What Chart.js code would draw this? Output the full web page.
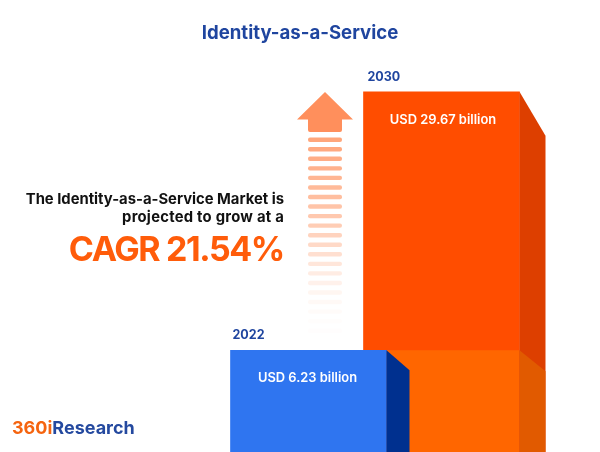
<!DOCTYPE html>
<html>
<head>
<meta charset="utf-8">
<style>html,body{margin:0;padding:0;background:#fff}canvas{display:block}</style>
<script src="https://cdn.jsdelivr.net/npm/chart.js@4"></script>
</head>
<body>
<canvas id="c" width="600" height="452"></canvas>
<script>
const categories = ["2022", "2030"];
const marketValues = [6.23, 29.67];
const valueUnit = "billion";
const currency = "USD";
const chartTitle = "Identity-as-a-Service";
const blurbLines = ["The Identity-as-a-Service Market is", "projected to grow at a"];
const cagrText = "CAGR 21.54%";
const logoParts = ["360i", "Research"];

const FONT = "Inter, sans-serif";
const BLUE_TEXT = "#1F459F";
const stripeAlpha = [.85,.82,.78,.74,.7,.66,.62,.56,.52,.48,.42,.36,.3,.24,.18,.13,.09,.06,.04,.02,.015];

const deco = {
  id: "deco",
  afterLayout(chart) {
    const tb = chart.titleBlock;
    if (tb) { tb.left = 0; tb.right = chart.width; tb.width = chart.width; }
  },
  afterDatasetDraw(chart, args) {
    const ctx = chart.ctx, y = chart.scales.y;
    const i = args.index;
    const el = args.meta.data[i];
    const l = el.x - el.width / 2, r = el.x + el.width / 2, t = el.y, b = el.base;
    ctx.save();
    if (i === 1) {
      const d = 26, ov = y.getPixelForValue(marketValues[0]);
      ctx.fillStyle = "#FF6600"; ctx.fillRect(l, ov, r - l, b - ov);
      ctx.fillStyle = "#DD3F00";
      ctx.beginPath(); ctx.moveTo(r, t); ctx.lineTo(r + d, t + 44); ctx.lineTo(r + d, b); ctx.lineTo(r, b); ctx.fill();
      ctx.fillStyle = "#E15A00";
      ctx.beginPath(); ctx.moveTo(r, ov); ctx.lineTo(r + d, ov + 21); ctx.lineTo(r + d, b); ctx.lineTo(r, b); ctx.fill();
    } else {
      const d = 23;
      ctx.fillStyle = "#00308F";
      ctx.beginPath(); ctx.moveTo(r, t); ctx.lineTo(r + d, t + 20); ctx.lineTo(r + d, b); ctx.lineTo(r, b); ctx.fill();
    }
    ctx.restore();
  },
  afterDraw(chart) {
    const ctx = chart.ctx;
    ctx.save();
    // arrow
    const cx = 325;
    ctx.fillStyle = "#FF8F5C";
    ctx.beginPath();
    ctx.moveTo(cx, 92); ctx.lineTo(cx + 28, 119.5); ctx.lineTo(cx + 17, 119.5);
    ctx.lineTo(cx + 17, 130); ctx.quadraticCurveTo(cx + 17, 132, cx + 15, 132);
    ctx.lineTo(cx - 15, 132); ctx.quadraticCurveTo(cx - 17, 132, cx - 17, 130);
    ctx.lineTo(cx - 17, 119.5); ctx.lineTo(cx - 28, 119.5); ctx.closePath(); ctx.fill();
    stripeAlpha.forEach((a, k) => {
      const sy = 137.5 + k * 9.55;
      ctx.fillStyle = `rgba(255,150,100,${a})`;
      ctx.beginPath(); ctx.roundRect(cx - 17, sy, 34, 4.4, 2); ctx.fill();
    });
    // bar labels
    ctx.textBaseline = "alphabetic";
    chart.data.datasets.forEach((ds, di) => {
      const meta = chart.getDatasetMeta(di);
      const el = meta.data[di];
      ctx.textAlign = "center"; ctx.fillStyle = "#fff";
      ctx.font = `600 12.9px ${FONT}`;
      ctx.fillText(`${currency} ${marketValues[di]} ${valueUnit}`, el.x + (di ? 1.5 : -1), el.y + 32);
      ctx.textAlign = "left"; ctx.fillStyle = BLUE_TEXT;
      ctx.font = `700 12.5px ${FONT}`;
      ctx.fillText(categories[di], el.x - el.width / 2 + (di ? 4 : 2), el.y - 11);
    });
    // blurb
    ctx.textAlign = "right"; ctx.fillStyle = "#111";
    ctx.font = `700 14.8px ${FONT}`;
    ctx.fillText(blurbLines[0], 284, 204);
    ctx.letterSpacing = "0.25px";
    ctx.fillText(blurbLines[1], 284, 222);
    ctx.fillStyle = "#FF5C0A";
    ctx.font = `700 34px ${FONT}`;
    ctx.letterSpacing = "-1.4px";
    ctx.fillText(cagrText, 284, 261);
    ctx.letterSpacing = "0px";
    // logo
    ctx.textAlign = "left";
    ctx.font = `700 18px ${FONT}`;
    ctx.fillStyle = "#F5640F";
    ctx.fillText(logoParts[0], 12, 434);
    const w = ctx.measureText(logoParts[0]).width;
    ctx.fillStyle = "#24499F";
    ctx.fillText(logoParts[1], 12 + w, 434);
    ctx.restore();
  }
};

new Chart(document.getElementById("c"), {
  type: "bar",
  data: {
    labels: categories,
    datasets: [
      { label: categories[0], data: [marketValues[0], null], backgroundColor: "#2F75F0", order: 0, base: -3, clip: false },
      { label: categories[1], data: [null, marketValues[1]], backgroundColor: "#FF4D00", order: 1, base: -3, clip: false }
    ]
  },
  plugins: [deco],
  options: {
    responsive: false,
    animation: false,
    devicePixelRatio: 1,
    grouped: false,
    barThickness: 156,
    layout: { padding: { left: 242, right: 92, top: 0, bottom: 0 } },
    scales: {
      x: { display: false },
      y: { display: false, min: -3, max: 33 }
    },
    plugins: {
      legend: { display: false },
      tooltip: { enabled: false },
      title: {
        display: true,
        text: chartTitle,
        color: BLUE_TEXT,
        font: { family: "Inter, sans-serif", size: 18.6, weight: "700" },
        padding: { top: 22, bottom: 10.7 }
      }
    }
  }
});
</script>
</body>
</html>
